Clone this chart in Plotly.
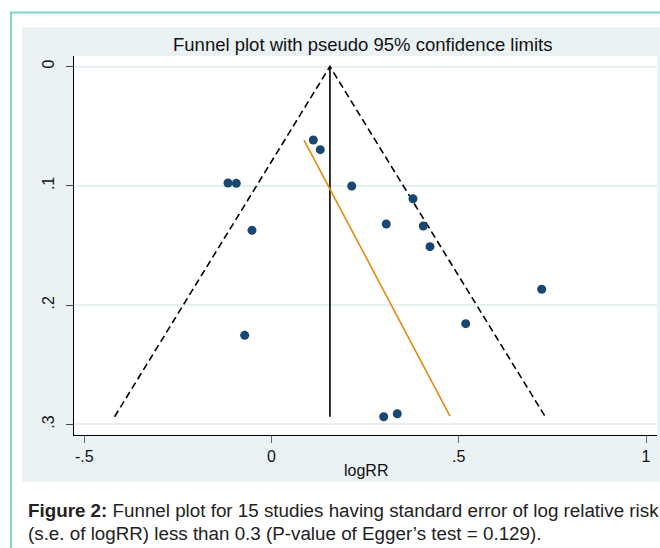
import plotly.graph_objects as go

# ---- data ----
logrr = [0.1116, 0.1303, -0.1162, -0.0940, 0.2142, 0.3778, 0.3065, 0.4053,
         -0.0521, 0.4232, 0.7215, 0.5186, -0.0716, 0.2996, 0.3359]
se_logrr = [0.0616, 0.0697, 0.0976, 0.0979, 0.1001, 0.1108, 0.1320, 0.1337,
            0.1373, 0.1510, 0.1867, 0.2155, 0.2253, 0.2935, 0.2910]

pooled_x = [0.156, 0.156]
pooled_y = [0.0, 0.2935]
funnel_x = [-0.419, 0.156, 0.731]
funnel_y = [0.2935, 0.0, 0.2935]
egger_x = [0.0868, 0.4766]
egger_y = [0.0616, 0.2929]

x_ticks = [-0.5, 0, 0.5, 1]
x_ticktext = ["-.5", "0", ".5", "1"]
y_ticks = [0, 0.1, 0.2, 0.3]
y_ticktext = ["0", ".1", ".2", ".3"]

title_text = "Funnel plot with pseudo 95% confidence limits"
x_title = "logRR"
caption1 = "<b>Figure 2:</b> Funnel plot for 15 studies having standard error of log relative risk"
caption2 = "(s.e. of logRR) less than 0.3 (P-value of Egger\u2019s test = 0.129)."

W, H = 660, 548
FONT = "Liberation Sans, Arial, sans-serif"

def px(x):
    return x / W

def py(y):
    return 1 - y / H

# plot area in pixels
L, R, T, B = 74, 657, 56, 434.5

fig = go.Figure()

fig.add_trace(go.Scatter(x=funnel_x, y=funnel_y, mode="lines",
                         line=dict(color="black", width=1.6, dash="7px,4px"),
                         hoverinfo="skip", showlegend=False))
fig.add_trace(go.Scatter(x=pooled_x, y=pooled_y, mode="lines",
                         line=dict(color="black", width=1.6),
                         hoverinfo="skip", showlegend=False))
fig.add_trace(go.Scatter(x=egger_x, y=egger_y, mode="lines",
                         line=dict(color="#e8890c", width=1.6),
                         hoverinfo="skip", showlegend=False))
fig.add_trace(go.Scatter(x=logrr, y=se_logrr, mode="markers",
                         marker=dict(color="#1a476f", size=9, line=dict(width=0)),
                         showlegend=False))

shapes = [
    # graph region panel
    dict(type="rect", xref="paper", yref="paper", x0=px(22), x1=1.0,
         y0=py(482), y1=py(27), fillcolor="#eaf2f3", line=dict(width=0), layer="below"),
    # plot region
    dict(type="rect", xref="paper", yref="paper", x0=px(L), x1=px(R),
         y0=py(B), y1=py(T), fillcolor="white", line=dict(width=0), layer="below"),
    # teal frame
    dict(type="line", xref="paper", yref="paper", x0=px(11), x1=px(11),
         y0=0, y1=py(12.5), line=dict(color="#7dd6c6", width=2.2), layer="below"),
    dict(type="line", xref="paper", yref="paper", x0=px(10), x1=1.0,
         y0=py(12.5), y1=py(12.5), line=dict(color="#7dd6c6", width=2.2), layer="below"),
]

annotations = [
    dict(text=title_text, xref="paper", yref="paper", x=px(362.5), y=py(44),
         xanchor="center", yanchor="middle", showarrow=False,
         font=dict(family=FONT, size=18.5, color="#111")),
    dict(text=x_title, xref="paper", yref="paper", x=px(366), y=py(470),
         xanchor="center", yanchor="middle", showarrow=False,
         font=dict(family=FONT, size=16, color="#111")),
    dict(text=caption1, xref="paper", yref="paper", x=px(26), y=py(510),
         xanchor="left", yanchor="middle", showarrow=False,
         font=dict(family=FONT, size=18.8, color="#222")),
    dict(text=caption2, xref="paper", yref="paper", x=px(26), y=py(533),
         xanchor="left", yanchor="middle", showarrow=False,
         font=dict(family=FONT, size=18.8, color="#222")),
]

fig.update_layout(
    width=W, height=H,
    margin=dict(l=0, r=0, t=0, b=0),
    paper_bgcolor="white",
    plot_bgcolor="rgba(0,0,0,0)",
    shapes=shapes,
    annotations=annotations,
    font=dict(family=FONT, size=16, color="#111"),
    xaxis=dict(
        domain=[px(L), px(R)],
        range=[(L - 271.5) / 374.5, (R - 271.5) / 374.5],
        tickvals=x_ticks, ticktext=x_ticktext,
        ticks="outside", ticklen=7, tickwidth=1.2, tickcolor="#666",
        showgrid=False, zeroline=False,
        showline=True, linecolor="black", linewidth=1.2,
        tickfont=dict(family=FONT, size=16, color="#111"),
        anchor="y",
    ),
    yaxis=dict(
        domain=[py(B), py(T)],
        range=[(B - 66.5) / 1193.3, (T - 66.5) / 1193.3],
        tickvals=y_ticks, ticktext=y_ticktext, tickangle=-90,
        ticks="outside", ticklen=7, tickwidth=1.2, tickcolor="#444",
        showgrid=True, gridcolor="#e6eff1", gridwidth=1.5,
        zeroline=False,
        showline=True, linecolor="black", linewidth=1.2,
        tickfont=dict(family=FONT, size=16, color="#111"),
        ticklabelstandoff=6,
        anchor="x",
    ),
)

fig.write_html(
    "out.html",
    config={"displayModeBar": False},
    post_script="document.body.style.margin='0';document.body.style.overflow='hidden';",
)
